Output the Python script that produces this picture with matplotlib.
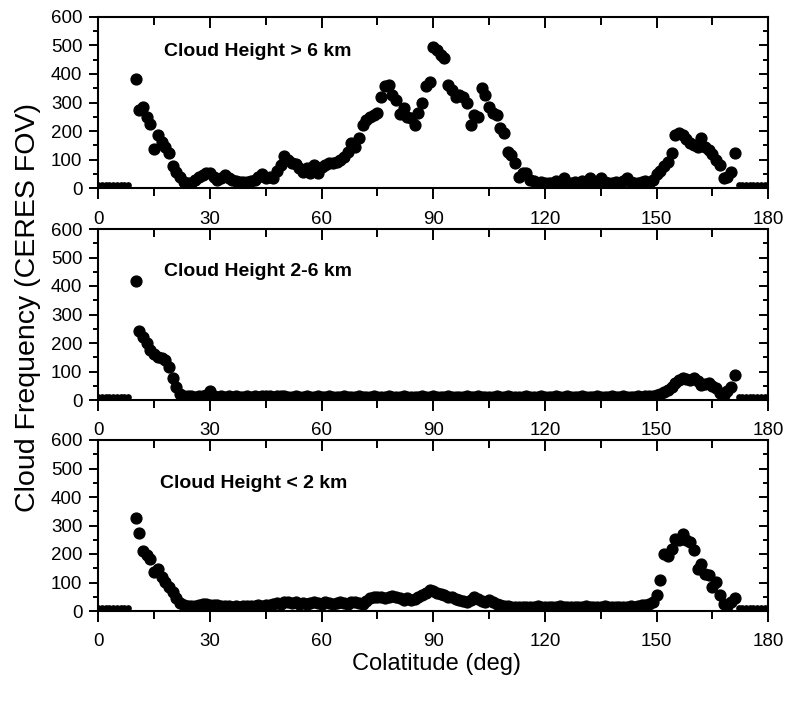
import matplotlib
matplotlib.use("Agg")
import matplotlib.pyplot as plt
from matplotlib.ticker import MultipleLocator
from matplotlib import font_manager

# ---------------- data ----------------
colat = list(range(10, 172))

high_cloud = [
    382, 274, 283, 250, 225, 136, 186, 163, 146, 122,
    78, 58, 41, 23, 17, 20, 30, 38, 47, 52,
    52, 40, 29, 35, 47, 35, 29, 25, 23, 23,
    23, 25, 29, 40, 50, 35, 41, 35, 60, 80,
    113, 99, 90, 84, 70, 58, 70, 52, 82, 52,
    76, 80, 87, 87, 93, 100, 110, 128, 157, 146,
    175, 221, 239, 250, 256, 262, 320, 358, 361, 326,
    309, 259, 280, 251, 245, 221, 262, 297, 358, 373,
    495, 484, 466, 454, 361, 344, 320, 326, 320, 297,
    221, 256, 250, 350, 326, 285, 262, 256, 210, 192,
    128, 117, 87, 41, 52, 52, 29, 25, 20, 22,
    20, 18, 20, 25, 22, 35, 20, 18, 22, 20,
    25, 20, 35, 22, 20, 35, 22, 18, 20, 22,
    18, 25, 35, 22, 18, 20, 22, 25, 20, 28,
    50, 62, 78, 92, 125, 186, 192, 186, 172, 160,
    152, 146, 175, 146, 134, 120, 100, 80, 35, 41,
    58, 125,
]

mid_cloud = [
    419, 242, 222, 200, 175, 160, 150, 147, 142, 115,
    78, 45, 20, 14, 13, 14, 12, 13, 14, 16,
    30, 15, 12, 13, 12, 14, 12, 13, 12, 12,
    13, 12, 14, 12, 13, 15, 13, 12, 14, 15,
    13, 12, 12, 13, 12, 12, 13, 12, 12, 13,
    12, 12, 13, 12, 12, 12, 13, 12, 12, 12,
    13, 12, 12, 12, 13, 12, 12, 12, 13, 12,
    12, 12, 13, 12, 12, 12, 12, 13, 12, 12,
    13, 12, 12, 12, 13, 12, 12, 12, 12, 13,
    12, 12, 13, 12, 12, 12, 12, 13, 12, 12,
    13, 12, 12, 12, 12, 13, 12, 12, 12, 13,
    12, 12, 12, 13, 12, 12, 13, 12, 12, 12,
    13, 12, 12, 12, 13, 12, 12, 12, 13, 12,
    12, 13, 12, 12, 12, 13, 12, 13, 14, 15,
    18, 22, 28, 35, 45, 58, 70, 78, 72, 70,
    76, 65, 53, 55, 58, 50, 41, 25, 18, 30,
    45, 88,
]

low_cloud = [
    328, 272, 211, 196, 184, 137, 149, 120, 102, 84,
    67, 45, 28, 20, 18, 17, 18, 22, 25, 24,
    22, 20, 20, 18, 18, 16, 15, 16, 15, 16,
    18, 17, 18, 20, 19, 20, 22, 24, 28, 26,
    30, 32, 28, 30, 26, 28, 25, 27, 30, 28,
    26, 30, 28, 25, 27, 30, 28, 26, 30, 32,
    28, 25, 35, 45, 50, 48, 50, 46, 50, 52,
    48, 45, 40, 44, 38, 42, 48, 55, 62, 75,
    70, 62, 60, 55, 50, 48, 43, 40, 35, 32,
    38, 49, 42, 35, 32, 37, 30, 26, 22, 18,
    16, 15, 15, 14, 15, 15, 14, 15, 16, 15,
    15, 14, 15, 15, 16, 15, 14, 15, 15, 14,
    15, 16, 15, 14, 15, 15, 18, 15, 14, 15,
    15, 14, 15, 16, 15, 18, 20, 22, 25, 32,
    55, 108, 201, 192, 219, 254, 248, 270, 250, 242,
    213, 149, 166, 131, 125, 84, 102, 55, 26, 18,
    32, 46,
]

# no-data fill points at the poles
fill_colat = [0, 1, 2, 3, 4, 5, 6, 7, 8, 172, 173, 174, 175, 176, 177, 178, 179, 180]
fill_value = [10, 10, 10, 10, 10, 10, 10, 10, 10, 10, 10, 10, 10, 10, 10, 10, 10, 10]

panel_titles = ["Cloud Height > 6 km", "Cloud Height 2-6 km", "Cloud Height < 2 km"]
series = [high_cloud, mid_cloud, low_cloud]
xticks = [0, 30, 60, 90, 120, 150, 180]
yticks = [0, 100, 200, 300, 400, 500, 600]

# ---------------- fonts ----------------
avail = {f.name for f in font_manager.fontManager.ttflist}
title_family = "Liberation Sans Narrow" if "Liberation Sans Narrow" in avail else "Liberation Sans"
title_size = 16.8 if title_family == "Liberation Sans Narrow" else 14
plt.rcParams["font.family"] = ["Liberation Sans", "DejaVu Sans"]

W, H = 796, 704
fig = plt.figure(figsize=(W / 100, H / 100), dpi=100)

# axes boxes in pixels: (top, bottom)
boxes = [(16.7, 188.3), (229.0, 400.0), (440.0, 611.0)]
left_px, right_px = 98.3, 768.3
title_pos = [(164, 51), (164, 272), (160, 484)]

for i, (top, bot) in enumerate(boxes):
    ax = fig.add_axes([left_px / W, 1 - bot / H, (right_px - left_px) / W, (bot - top) / H])
    ax.plot(fill_colat, fill_value, linestyle="none", marker="o", ms=3.8,
            color="black", mec="black")
    ax.plot(colat, series[i], linestyle="none", marker="o", ms=7.8,
            color="black", mec="black")
    ax.set_xlim(0, 180)
    ax.set_ylim(0, 600)
    ax.set_xticks(xticks)
    ax.set_yticks(yticks)
    ax.xaxis.set_minor_locator(MultipleLocator(15))
    ax.yaxis.set_minor_locator(MultipleLocator(50))
    for s in ax.spines.values():
        s.set_linewidth(1.5)
    ax.tick_params(axis="x", which="major", direction="out", length=8, width=1.4,
                   pad=8, labelsize=13.5)
    ax.tick_params(axis="x", which="minor", direction="out", length=6, width=1.4)
    ax.tick_params(axis="y", which="major", direction="out", length=6.5, width=1.4,
                   pad=5, labelsize=13.5)
    ax.tick_params(axis="y", which="minor", direction="out", length=3.5, width=1.4)
    ax.tick_params(which="both", top=True, right=True)
    # top and right ticks point inward
    for t in ax.xaxis.get_major_ticks() + ax.xaxis.get_minor_ticks():
        t.tick2line.set_marker(3)  # TICKDOWN
    for t in ax.yaxis.get_major_ticks() + ax.yaxis.get_minor_ticks():
        t.tick2line.set_marker(0)  # TICKLEFT
    ax.text(title_pos[i][0] / W, 1 - title_pos[i][1] / H, panel_titles[i],
            transform=fig.transFigure, ha="left", va="center",
            fontsize=title_size, fontweight="bold", family=title_family)

fig.text(28 / W, 1 - 308 / H, "Cloud Frequency (CERES FOV)", rotation=90,
         ha="center", va="center", fontsize=20.5)
fig.text(437 / W, 1 - 664 / H, "Colatitude (deg)", ha="center", va="center",
         fontsize=17)

fig.savefig("out.png", dpi=100)
